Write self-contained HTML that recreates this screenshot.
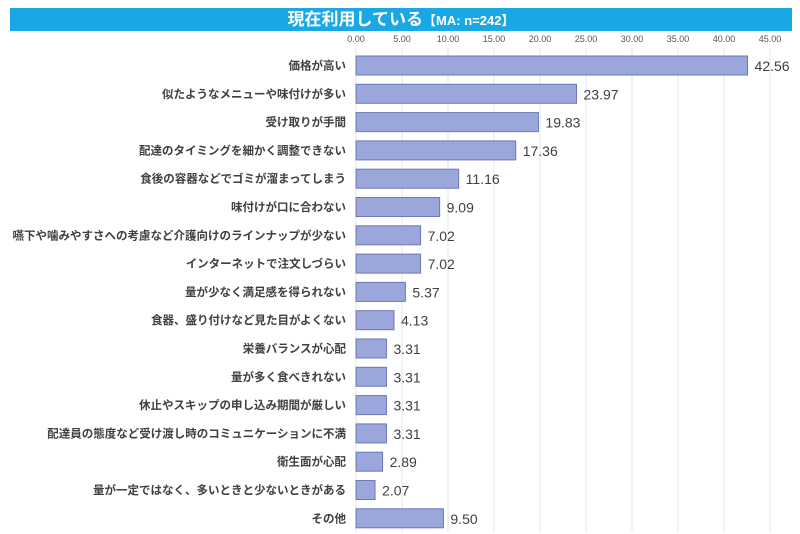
<!DOCTYPE html>
<html><head><meta charset="utf-8"><style>
body{margin:0;width:800px;height:534px;background:#fff;overflow:hidden;font-family:"Liberation Sans","Noto Sans CJK JP",sans-serif}
#title{position:absolute;left:10px;top:8px;width:782px;height:23px;background:#1aa7e6;color:#fff;text-align:center;font-weight:bold;font-size:17px;line-height:23px}
#title span{font-size:13px}
</style></head><body>
<div id="title">現在利用している<span>【MA: n=242】</span></div>
<svg id="c" width="800" height="534" style="position:absolute;left:0;top:0"></svg>
<script>
const categories=["価格が高い","似たようなメニューや味付けが多い","受け取りが手間","配達のタイミングを細かく調整できない","食後の容器などでゴミが溜まってしまう","味付けが口に合わない","嚥下や噛みやすさへの考慮など介護向けのラインナップが少ない","インターネットで注文しづらい","量が少なく満足感を得られない","食器、盛り付けなど見た目がよくない","栄養バランスが心配","量が多く食べきれない","休止やスキップの申し込み期間が厳しい","配達員の態度など受け渡し時のコミュニケーションに不満","衛生面が心配","量が一定ではなく、多いときと少ないときがある","その他"];
const values=[42.56,23.97,19.83,17.36,11.16,9.09,7.02,7.02,5.37,4.13,3.31,3.31,3.31,3.31,2.89,2.07,9.50];
const ticks=[0,5,10,15,20,25,30,35,40,45];
const NS="http://www.w3.org/2000/svg";
const svg=document.getElementById('c');
const x=v=>356+v*(770-356)/45;
const y=i=>65.5+i*28.3;
function mk(t,a,txt){const e=document.createElementNS(NS,t);for(const k in a)e.setAttribute(k,a[k]);if(txt!=null)e.textContent=txt;svg.appendChild(e);return e;}
ticks.forEach(t=>{
 const g=mk('line',{x1:x(t),x2:x(t),y1:48,y2:532,stroke:'#e4e4e4','stroke-width':1});
 
 
 const l=mk('text',{x:x(t),y:42,'text-anchor':'middle','font-size':9,fill:'#555'},t.toFixed(2));
 
 
});
categories.forEach((c,i)=>{
 const cl=mk('text',{x:346,y:y(i)+4,'text-anchor':'end','font-size':11.5,'font-weight':'bold',fill:'#404040'},c);
 
 
 const b=mk('rect',{x:x(0),y:y(i)-9.5,width:x(values[i])-x(0),height:19,fill:'#9ba6da',stroke:'#6c78b8','stroke-width':1});
 
 
 const v=mk('text',{x:x(values[i])+7,y:y(i)+5.5,'font-size':14,fill:'#404040'},values[i].toFixed(2));
 
 
});
</script>
</body></html>
